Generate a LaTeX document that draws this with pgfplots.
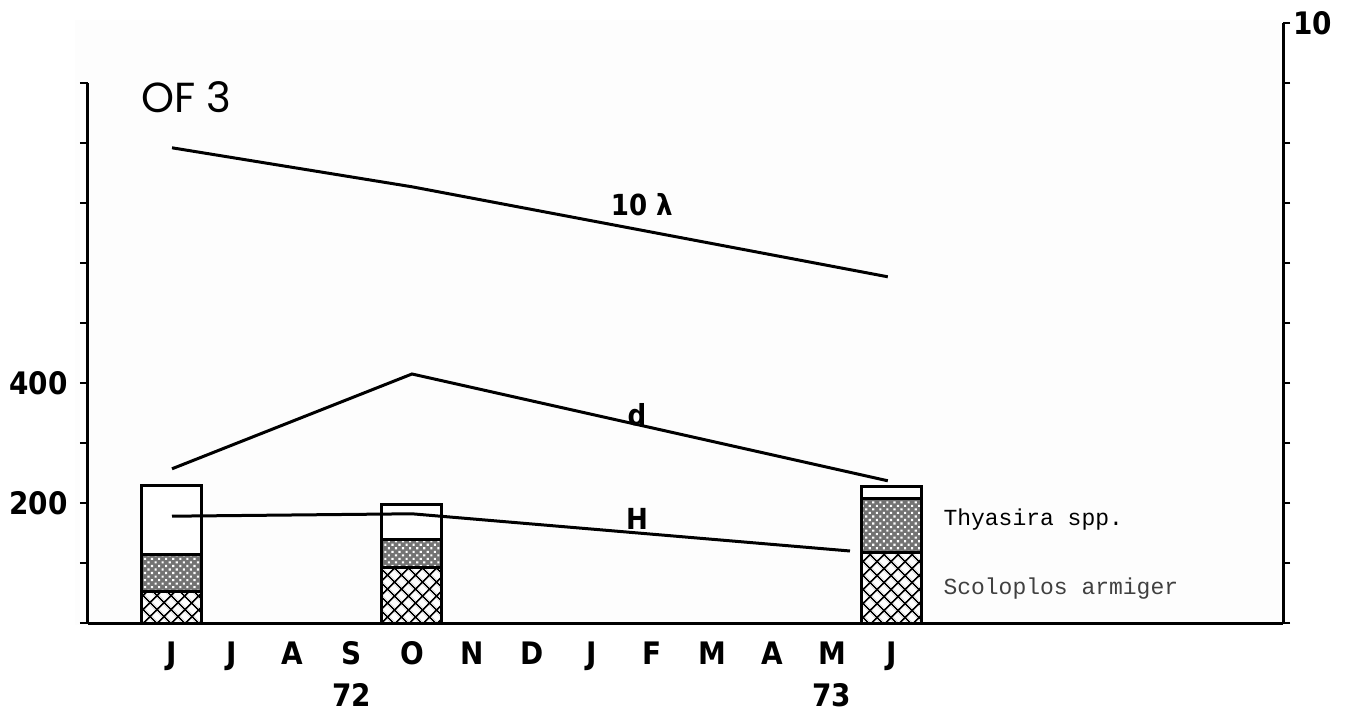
\documentclass[border=0pt]{standalone}
\usepackage{pgfplots}
\pgfplotsset{compat=1.18}
\usetikzlibrary{patterns.meta}
\usepackage{fontspec}
\setmainfont{DejaVu Sans Condensed}
\newfontfamily\lblfont{DejaVu Sans Condensed}
\newfontfamily\titlefont{Poppins}
\newfontfamily\twfont{Liberation Mono}
\newcommand{\tickfont}{\lblfont\bfseries\fontsize{31}{36}\selectfont}
\newcommand{\curvefont}{\lblfont\bfseries\fontsize{29}{34}\selectfont}
\begin{document}
\begin{tikzpicture}
\useasboundingbox (0,0) rectangle (1345pt,718pt);
\fill[white] (0,0) rectangle (1345pt,718pt);
\fill[black!0.8] (75pt,93pt) rectangle (1290pt,698pt);
% left axis with bars
\begin{axis}[
  at={(88pt,95pt)}, anchor=south west, scale only axis,
  width=1195pt, height=540pt,
  xmin=-1.4, xmax=18.517, ymin=0, ymax=900,
  axis x line*=bottom, axis y line*=left,
  axis line style={line width=3pt, -},
  xtick={0,...,12}, xticklabels={J,J,A,S,O,N,D,J,F,M,A,M,J},
  x tick style={draw=none},
  xticklabel style={yshift=-7pt},
  ytick={0,100,...,900}, yticklabels={,,200,,400,,,,,},
  y tick style={line width=2.8pt, black},
  yticklabel style={xshift=-9pt},
  tick align=outside, major tick length=8pt,
  ticklabel style={font=\tickfont},
  /pgf/number format/assume math mode=true,
  ybar stacked, bar width=1,
  clip=false,
]
\addplot[draw=black, line width=3pt, pattern={Hatch[angle=45,distance=10.5pt,line width=1.9pt]}]
  coordinates {(0,52) (4,93) (12,117)};
\addplot[draw=black, line width=3pt, fill=black!55, postaction={pattern={Dots[angle=45,distance=5pt,radius=1.5pt]}, pattern color=white}]
  coordinates {(0,63) (4,47) (12,91)};
\addplot[draw=black, line width=3pt, fill=white]
  coordinates {(0,115) (4,58) (12,19)};
\node[font=\tickfont] at (axis cs:3,-120) {72};
\node[font=\tickfont] at (axis cs:11,-120) {73};
\node[font=\twfont\fontsize{23}{27}\selectfont, anchor=west] at (axis cs:12.8,173) {Thyasira spp.};
\node[font=\twfont\fontsize{23}{27}\selectfont, text=black!75, anchor=west] at (axis cs:12.8,58) {Scoloplos armiger};
\end{axis}
% right axis with lines
\begin{axis}[
  at={(88pt,95pt)}, anchor=south west, scale only axis,
  width=1195pt, height=600pt,
  xmin=-1.4, xmax=18.517, ymin=0, ymax=10,
  axis x line=none, axis y line*=right,
  axis line style={line width=3pt, -},
  xtick=\empty,
  ytick={0,...,10}, yticklabels={,,,,,,,,,,10},
  y tick style={line width=2.8pt, black},
  tick align=outside, major tick length=7pt,
  ticklabel style={font=\tickfont},
  /pgf/number format/assume math mode=true,
  clip=false,
]
\addplot[black, line width=3pt] coordinates {(0,7.92) (4,7.27) (11.93,5.77)};
\addplot[black, line width=3pt] coordinates {(0,2.57) (4,4.15) (11.93,2.37)};
\addplot[black, line width=3pt] coordinates {(0,1.78) (4,1.82) (11.3,1.2)};
\node[font=\curvefont] at (axis cs:7.83,6.97) {10 λ};
\node[font=\curvefont] at (axis cs:7.75,3.47) {d};
\node[font=\curvefont] at (axis cs:7.75,1.73) {H};
\node[font=\titlefont\fontsize{42}{48}\selectfont, anchor=west, inner sep=0pt] at (axis cs:-0.52,8.77) {OF 3};
\end{axis}
\end{tikzpicture}
\end{document}
